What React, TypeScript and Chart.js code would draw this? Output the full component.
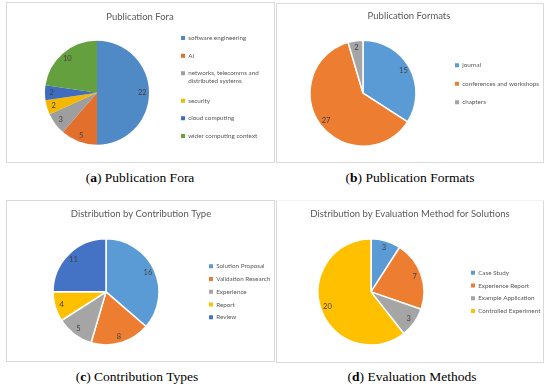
import React, { useEffect, useRef } from "react";
import { Chart, registerables } from "chart.js";

Chart.register(...registerables);

// ---- data ----
const foraTitle = "Publication Fora";
const foraLabels: (string | string[])[] = [
  "software engineering",
  "AI",
  ["networks, telecomms and", "distributed systems"],
  "security",
  "cloud computing",
  "wider computing context",
];
const foraValues = [22, 5, 3, 2, 2, 10];

const formatTitle = "Publication Formats";
const formatLabels = ["journal", "conferences and workshops", "chapters"];
const formatValues = [15, 27, 2];

const contributionTitle = "Distribution by Contribution Type";
const contributionLabels = ["Solution Proposal", "Validation Research", "Experience", "Report", "Review"];
const contributionValues = [16, 8, 5, 4, 11];

const evaluationTitle = "Distribution by Evaluation Method for Solutions";
const evaluationLabels = ["Case Study", "Experience Report", "Example Application", "Controlled Experiment"];
const evaluationValues = [3, 7, 3, 20];

const captions = [
  ["a", "Publication Fora"],
  ["b", "Publication Formats"],
  ["c", "Contribution Types"],
  ["d", "Evaluation Methods"],
];

const officeColors = ["#5B9BD5", "#ED7D31", "#A5A5A5", "#FFC000", "#4472C4", "#70AD47"];
const foraColors = ["#4F89C6", "#E2702C", "#9E9E9E", "#F5B800", "#3F6CBD", "#65A03F"];

const FONT = "Lato, 'Open Sans', sans-serif";

type PanelCfg = {
  left: number; top: number; w: number; h: number;
  borderTop?: string;
  pieCx: number;       // desired pie centre x (canvas px)
  legendLeft: number;  // desired legend box left (canvas px)
  titleCx: number;     // desired title centre x (canvas px)
  padBottom: number;
  titlePad: { top: number; bottom: number };
  legendPad: number;
  legendAlign: "start" | "center" | "end";
  radius: number;
  sliceBorder: number;
};

function makeValueLabelPlugin(ratio: number) {
  return {
    id: "valueLabels",
    afterDatasetsDraw(chart: any) {
      const ctx = chart.ctx;
      const meta = chart.getDatasetMeta(0);
      const data = chart.data.datasets[0].data;
      ctx.save();
      ctx.font = `7.5px ${FONT}`;
      ctx.fillStyle = "#404040";
      ctx.textAlign = "center";
      ctx.textBaseline = "middle";
      meta.data.forEach((arc: any, i: number) => {
        const p = arc.getProps(["x", "y", "startAngle", "endAngle", "outerRadius"], true);
        const mid = (p.startAngle + p.endAngle) / 2;
        const r = p.outerRadius * ratio;
        ctx.fillText(String(data[i]), p.x + Math.cos(mid) * r, p.y + Math.sin(mid) * r);
      });
      ctx.restore();
    },
  };
}

function makeBoxPlugin(cfg: PanelCfg) {
  return {
    id: "boxPlacer",
    beforeLayout(chart: any) {
      const lg = chart.legend;
      if (lg && !lg.__patched) {
        const orig = lg.fit.bind(lg);
        lg.fit = function () {
          orig();
          this.width = cfg.w - cfg.legendLeft;
        };
        lg.__patched = true;
      }
    },
    afterLayout(chart: any) {
      const t = chart.titleBlock;
      if (t) {
        t.left = cfg.titleCx - 150;
        t.right = cfg.titleCx + 150;
        t.width = 300;
      }
    },
  };
}

function PiePanel(props: {
  cfg: PanelCfg;
  title: string;
  labels: (string | string[])[];
  values: number[];
  colors: string[];
}) {
  const ref = useRef<HTMLCanvasElement | null>(null);
  const { cfg, title, labels, values, colors } = props;
  useEffect(() => {
    if (!ref.current) return;
    const chart = new Chart(ref.current, {
      type: "pie",
      data: {
        labels: labels as any,
        datasets: [
          {
            data: values,
            backgroundColor: colors.slice(0, values.length),
            borderColor: "#ffffff",
            borderWidth: cfg.sliceBorder,
            radius: cfg.radius,
          } as any,
        ],
      },
      options: {
        animation: false,
        responsive: false,
        devicePixelRatio: 1,
        layout: {
          padding: { left: 2 * cfg.pieCx - cfg.legendLeft, right: 0, top: 0, bottom: cfg.padBottom },
        },
        plugins: {
          tooltip: { enabled: false },
          title: {
            display: true,
            text: title,
            color: "#595959",
            font: { family: FONT, size: 9.5, weight: "normal", lineHeight: 1.2 },
            padding: cfg.titlePad,
          },
          legend: {
            display: true,
            position: "right",
            fullSize: false,
            align: cfg.legendAlign,
            labels: {
              boxWidth: 4,
              boxHeight: 4,
              padding: cfg.legendPad,
              color: "#595959",
              font: { family: FONT, size: 6.3, lineHeight: 1.27 },
              generateLabels: (ch: any) =>
                (Chart as any).overrides.pie.plugins.legend.labels
                  .generateLabels(ch)
                  .map((it: any) => ({ ...it, lineWidth: 0, strokeStyle: "rgba(0,0,0,0)" })),
            },
          },
        },
      } as any,
      plugins: [makeBoxPlugin(cfg), makeValueLabelPlugin(0.87)],
    });
    return () => chart.destroy();
  }, []);
  return (
    <div
      style={{
        position: "absolute",
        left: cfg.left,
        top: cfg.top,
        width: cfg.w,
        height: cfg.h,
        border: "1px solid #d9d9d9",
        borderTopColor: cfg.borderTop || "#d9d9d9",
        background: "#fff",
      }}
    >
      <canvas ref={ref} width={cfg.w} height={cfg.h} style={{ display: "block" }} />
    </div>
  );
}

const panelA: PanelCfg = {
  left: 6, top: 2, w: 267, h: 159,
  pieCx: 90, legendLeft: 162.64, titleCx: 133,
  padBottom: -2.5,
  titlePad: { top: 8.3, bottom: 0.8 },
  legendPad: 11.36, legendAlign: "start",
  radius: 52, sliceBorder: 0,
};
const panelB: PanelCfg = {
  left: 276, top: 3, w: 266, h: 158,
  pieCx: 86, legendLeft: 165.8, titleCx: 132,
  padBottom: 25.65,
  titlePad: { top: 6.3, bottom: 28.25 },
  legendPad: 12.2, legendAlign: "start",
  radius: 53, sliceBorder: 1.5,
};
const panelC: PanelCfg = {
  left: 6, top: 200, w: 267, h: 160,
  pieCx: 99, legendLeft: 195.55, titleCx: 134,
  padBottom: 7,
  titlePad: { top: 7.3, bottom: 10 },
  legendPad: 6.45, legendAlign: "center",
  radius: 53, sliceBorder: 1.5,
};
const panelD: PanelCfg = {
  left: 276, top: 200, w: 266, h: 161,
  borderTop: "#f4f4f4",
  pieCx: 94, legendLeft: 187.6, titleCx: 133,
  padBottom: 8,
  titlePad: { top: 7.3, bottom: 10 },
  legendPad: 6.4, legendAlign: "center",
  radius: 53, sliceBorder: 1.5,
};

const captionPos = [
  { x: 140, y: 178 },
  { x: 410, y: 178 },
  { x: 137, y: 377 },
  { x: 412, y: 377 },
];

export default function App() {
  return (
    <div style={{ position: "fixed", left: 0, top: 0, width: 550, height: 388, background: "#fff", overflow: "hidden" }}>
      <PiePanel cfg={panelA} title={foraTitle} labels={foraLabels} values={foraValues} colors={foraColors} />
      <PiePanel cfg={panelB} title={formatTitle} labels={formatLabels} values={formatValues} colors={officeColors} />
      <PiePanel cfg={panelC} title={contributionTitle} labels={contributionLabels} values={contributionValues} colors={officeColors} />
      <PiePanel cfg={panelD} title={evaluationTitle} labels={evaluationLabels} values={evaluationValues} colors={officeColors.slice(0, 4)} />
      {captions.map(([letter, text], i) => (
        <div
          key={letter}
          style={{
            position: "absolute",
            left: captionPos[i].x - 120,
            top: captionPos[i].y - 8,
            width: 240,
            height: 16,
            lineHeight: "16px",
            textAlign: "center",
            fontFamily: "'Liberation Serif', serif",
            fontSize: 13.5,
            color: "#000",
            whiteSpace: "nowrap",
          }}
        >
          (<b>{letter}</b>) {text}
        </div>
      ))}
    </div>
  );
}
